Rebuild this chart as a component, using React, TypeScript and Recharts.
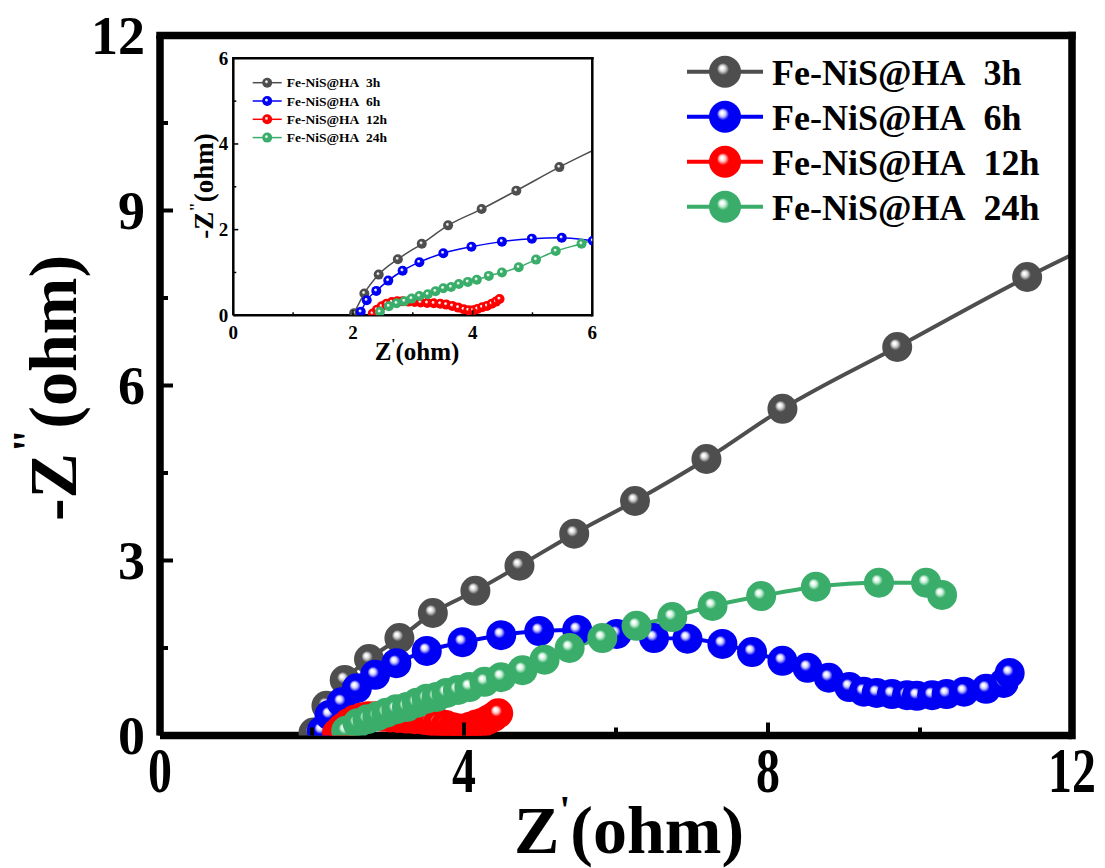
import React from "react"
import { LineChart, Line, XAxis, YAxis, ReferenceLine } from "recharts"

const SERIF = "'Liberation Serif', 'Times New Roman', serif"

// series labels + colours
const seriesNames = ["Fe-NiS@HA\u00a0 3h", "Fe-NiS@HA\u00a0 6h", "Fe-NiS@HA\u00a0 12h", "Fe-NiS@HA\u00a0 24h"]
const seriesColors = ["#4e4e4e", "#0000f4", "#ff0000", "#39ad69"]
const highlightColors = ["#cfcfcf", "#c8c8ff", "#ffc4c4", "#c8f0d8"]

// Nyquist data, Z' (ohm) vs -Z'' (ohm)
const re3h = [2.02, 2.19, 2.43, 2.75, 3.15, 3.59, 4.15, 4.73, 5.45, 6.25, 7.19, 8.19, 9.7, 11.41, 12.9]
const im3h = [0.05, 0.51, 0.95, 1.31, 1.67, 2.1, 2.48, 2.91, 3.46, 4.02, 4.74, 5.6, 6.66, 7.86, 8.8]

const re6h = [2.13, 2.23, 2.39, 2.59, 2.83, 3.11, 3.51, 3.98, 4.49, 4.99, 5.49, 6.01, 6.5, 6.94, 7.4, 7.79, 8.19, 8.52, 8.8, 9.07, 9.26, 9.43, 9.63, 9.83, 9.96, 10.16, 10.35, 10.58, 10.87, 11.1, 11.18]
const im6h = [0.08, 0.35, 0.57, 0.81, 1.04, 1.24, 1.45, 1.6, 1.72, 1.79, 1.81, 1.74, 1.67, 1.66, 1.57, 1.43, 1.28, 1.16, 0.99, 0.83, 0.75, 0.73, 0.71, 0.69, 0.68, 0.69, 0.71, 0.75, 0.8, 0.9, 1.07]

const re12h = [2.33, 2.4, 2.48, 2.56, 2.65, 2.74, 2.83, 2.93, 3.03, 3.13, 3.24, 3.35, 3.46, 3.56, 3.66, 3.76, 3.85, 3.93, 4.01, 4.08, 4.16, 4.24, 4.32, 4.39, 4.45]
const im12h = [0.04, 0.13, 0.21, 0.27, 0.31, 0.33, 0.33, 0.32, 0.31, 0.3, 0.29, 0.28, 0.27, 0.25, 0.22, 0.18, 0.14, 0.12, 0.12, 0.15, 0.19, 0.22, 0.27, 0.32, 0.38]

const re24h = [2.45, 2.6, 2.73, 2.86, 2.98, 3.11, 3.25, 3.38, 3.51, 3.64, 3.77, 3.92, 4.07, 4.27, 4.49, 4.77, 5.06, 5.39, 5.82, 6.27, 6.74, 7.27, 7.91, 8.63, 9.46, 10.08, 10.29]
const im24h = [0.08, 0.21, 0.28, 0.33, 0.39, 0.45, 0.49, 0.56, 0.63, 0.66, 0.73, 0.78, 0.83, 0.92, 1.0, 1.12, 1.3, 1.5, 1.67, 1.88, 2.03, 2.22, 2.39, 2.55, 2.62, 2.62, 2.41]

// axis ticks
const mainXTicks = [0, 2, 4, 6, 8, 10, 12]
const mainYTicks = [0, 1.5, 3, 4.5, 6, 7.5, 9, 10.5, 12]
const insetTicks = [0, 1, 2, 3, 4, 5, 6]

const toPoints = (xs: number[], ys: number[]) => xs.map((x, i) => ({ x, y: ys[i] }))

const series = [
  toPoints(re3h, im3h),
  toPoints(re6h, im6h),
  toPoints(re12h, im12h),
  toPoints(re24h, im24h),
].map((points, i) => ({ points, name: seriesNames[i], color: seriesColors[i], grad: `sphere${i}` }))

// shaded "ball" markers
function Gradients() {
  return (
    <svg width={0} height={0} style={{ position: "absolute" }}>
      <defs>
        {series.map((s, i) => (
          <radialGradient key={s.grad} id={s.grad} cx="0.5" cy="0.5" r="0.5" fx="0.4" fy="0.37">
            <stop offset="0" stopColor="#ffffff" />
            <stop offset="0.07" stopColor="#ffffff" />
            <stop offset="0.2" stopColor={highlightColors[i]} />
            <stop offset="0.38" stopColor={s.color} />
            <stop offset="1" stopColor={s.color} />
          </radialGradient>
        ))}
      </defs>
    </svg>
  )
}

function MainXTick(props: any) {
  const { x, y, payload } = props
  const v = payload.value
  const major = v % 4 === 0
  return (
    <g>
      <line x1={x} x2={x} y1={y} y2={y - (major ? 13 : 8)} stroke="#000" strokeWidth={4} />
      {major && (
        <text x={x} y={y + 57} textAnchor="middle" fontFamily={SERIF} fontWeight="bold" fontSize={63}
          transform={`translate(${x} 0) scale(0.76 1) translate(${-x} 0)`}>
          {v}
        </text>
      )}
    </g>
  )
}

function MainYTick(props: any) {
  const { x, y, payload } = props
  const v = payload.value
  const major = v % 3 === 0
  return (
    <g>
      <line x1={x} x2={x + (major ? 13 : 8)} y1={y} y2={y} stroke="#000" strokeWidth={4} />
      {major && (
        <text x={x - 15} y={y + 18.5} textAnchor="end" fontFamily={SERIF} fontWeight="bold" fontSize={54}>
          {v}
        </text>
      )}
    </g>
  )
}

function InsetXTick(props: any) {
  const { x, y, payload } = props
  const v = payload.value
  const major = v % 2 === 0
  return (
    <g>
      <line x1={x} x2={x} y1={y} y2={y - (major ? 5 : 3)} stroke="#000" strokeWidth={1.5} />
      {major && (
        <text x={x} y={y + 24} textAnchor="middle" fontFamily={SERIF} fontWeight="bold" fontSize={19}>
          {v}
        </text>
      )}
    </g>
  )
}

function InsetYTick(props: any) {
  const { x, y, payload } = props
  const v = payload.value
  const major = v % 2 === 0
  return (
    <g>
      <line x1={x} x2={x + (major ? 5 : 3)} y1={y} y2={y} stroke="#000" strokeWidth={1.5} />
      {major && (
        <text x={x - 5} y={y + 6.5} textAnchor="end" fontFamily={SERIF} fontWeight="bold" fontSize={19}>
          {v}
        </text>
      )}
    </g>
  )
}

function LegendBlock({ x, y, gap, lineW, r, stroke, fontSize, textDx, baseDy }: any) {
  return (
    <g>
      {series.map((s, i) => {
        const cy = y + i * gap
        return (
          <g key={s.name}>
            <line x1={x} x2={x + lineW} y1={cy} y2={cy} stroke={s.color} strokeWidth={stroke} />
            <circle cx={x + lineW / 2} cy={cy} r={r} fill={`url(#${s.grad})`} />
            <text x={x + lineW + textDx} y={cy + baseDy} fontFamily={SERIF} fontWeight="bold" fontSize={fontSize}
              style={{ whiteSpace: "pre" }}>
              {s.name}
            </text>
          </g>
        )
      })}
    </g>
  )
}

export default function App() {
  const frame = { stroke: "#000", strokeWidth: 7.5 }
  const insetFrame = { stroke: "#000", strokeWidth: 2.5 }
  return (
    <div style={{ position: "absolute", left: 0, top: 0, width: 1105, height: 868, background: "#fff" }}>
      <Gradients />
      <LineChart width={1105} height={868} margin={{ top: 35.5, right: 33, bottom: 72.5, left: 60 }}>
        <XAxis type="number" dataKey="x" domain={[0, 12]} ticks={mainXTicks} interval={0} allowDataOverflow
          height={60} tickSize={0} tickMargin={0} tickLine={false} axisLine={frame} tick={<MainXTick />} />
        <YAxis type="number" dataKey="y" domain={[0, 12]} ticks={mainYTicks} interval={0} allowDataOverflow
          width={100} tickSize={0} tickMargin={0} tickLine={false} axisLine={frame} tick={<MainYTick />} />
        {series.map((s) => (
          <Line key={s.name} data={s.points} dataKey="y" name={s.name} type="monotone" stroke={s.color}
            strokeWidth={4} dot={{ r: 15, fill: `url(#${s.grad})`, stroke: "none", strokeWidth: 0, clipDot: true }}
            activeDot={false} isAnimationActive={false} />
        ))}
        <ReferenceLine y={12} stroke="#000" strokeWidth={7.5} strokeLinecap="square" />
        <ReferenceLine x={12} stroke="#000" strokeWidth={7.5} strokeLinecap="square" />
        <text x={629} y={853} textAnchor="middle" fontFamily={SERIF} fontWeight="bold" fontSize={68}>
          Z<tspan dy={-30} fontSize={40}>'</tspan><tspan dy={30} fontSize={68}>(ohm)</tspan>
        </text>
        <text transform="translate(76 388) rotate(-90)" textAnchor="middle" fontFamily={SERIF} fontWeight="bold" fontSize={68}>
          -Z<tspan dy={-33} fontSize={44}>"</tspan><tspan dy={33} fontSize={68}>(ohm)</tspan>
        </text>
        <LegendBlock x={687} y={71.7} gap={45} lineW={76} r={16} stroke={4} fontSize={36} textDx={9} baseDy={13} />
      </LineChart>

      <div style={{ position: "absolute", left: 150, top: 40 }}>
        <LineChart width={470} height={340} margin={{ top: 18.3, right: 27.7, bottom: 34.7, left: 33.3 }}>
          <XAxis type="number" dataKey="x" domain={[0, 6]} ticks={insetTicks} interval={0} allowDataOverflow
            height={30} tickSize={0} tickMargin={0} tickLine={false} axisLine={insetFrame} tick={<InsetXTick />} />
          <YAxis type="number" dataKey="y" domain={[0, 6]} ticks={insetTicks} interval={0} allowDataOverflow
            width={50} tickSize={0} tickMargin={0} tickLine={false} axisLine={insetFrame} tick={<InsetYTick />} />
          {series.map((s) => (
            <Line key={s.name} data={s.points} dataKey="y" name={s.name} type="monotone" stroke={s.color}
              strokeWidth={1.5} dot={{ r: 5, fill: `url(#${s.grad})`, stroke: "none", strokeWidth: 0, clipDot: true }}
              activeDot={false} isAnimationActive={false} />
          ))}
          <ReferenceLine y={6} stroke="#000" strokeWidth={2.5} strokeLinecap="square" />
          <ReferenceLine x={6} stroke="#000" strokeWidth={2.5} strokeLinecap="square" />
          <text x={267} y={320} textAnchor="middle" fontFamily={SERIF} fontWeight="bold" fontSize={25}>
            Z<tspan dy={-11} fontSize={15}>'</tspan><tspan dy={11} fontSize={25}>(ohm)</tspan>
          </text>
          <text transform="translate(63 146) rotate(-90)" textAnchor="middle" fontFamily={SERIF} fontWeight="bold" fontSize={27}>
            -Z<tspan dy={-12} fontSize={17}>"</tspan><tspan dy={12} fontSize={27}>(ohm)</tspan>
          </text>
          <LegendBlock x={102.7} y={42.7} gap={18.3} lineW={29} r={5} stroke={1.5} fontSize={13.5} textDx={5} baseDy={4.5} />
        </LineChart>
      </div>
    </div>
  )
}
